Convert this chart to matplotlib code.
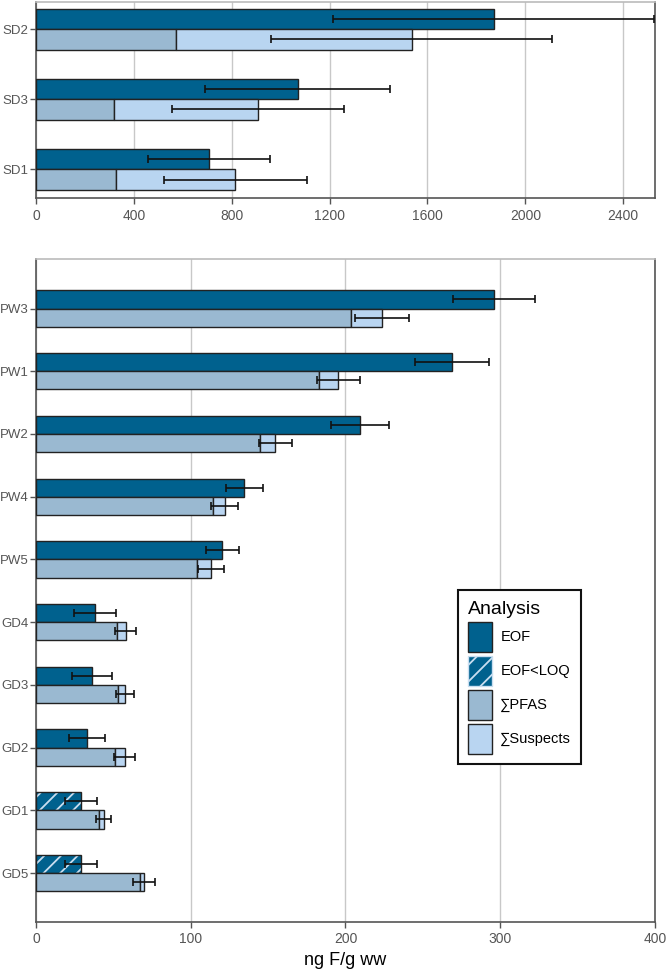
import numpy as np
import matplotlib
matplotlib.use("Agg")
import matplotlib.pyplot as plt
from matplotlib.patches import Patch

plt.rcParams['font.family'] = ['Liberation Sans', 'DejaVu Sans']
plt.rcParams['hatch.linewidth'] = 1.3

# top panel (SD samples)
sd_names = ["SD1", "SD3", "SD2"]
sd_eof = [707, 1069, 1870]
sd_eof_err = [251, 377, 655]
sd_pfas = [327, 317, 574]
sd_total = [815, 907, 1535]
sd_total_err = [291, 352, 573]

# bottom panel (PW / GD samples), bottom to top
gd_names = ["GD5", "GD1", "GD2", "GD3", "GD4", "PW5", "PW4", "PW2", "PW1", "PW3"]
gd_eof = [29, 29, 32.9, 36.4, 38.1, 120.4, 134.7, 209.6, 269, 296]
gd_eof_err = [10.5, 10.5, 11.7, 13, 13.3, 10.7, 12, 18.7, 24, 26.5]
gd_below_loq = [True, True, False, False, False, False, False, False, False, False]
gd_pfas = [67.1, 40.8, 51.2, 53.2, 52.6, 104.3, 114.4, 144.9, 182.7, 203.6]
gd_total = [69.9, 43.8, 57.3, 57.3, 58.1, 113, 122, 154.7, 195.3, 223.6]
gd_total_err = [7.1, 4.7, 6.7, 5.9, 6.8, 8.4, 8.8, 10.9, 14, 17.7]

c_eof = "#00618e"
c_pfas = "#9ab9d1"
c_susp = "#b9d5f1"
c_edge = "#222222"
h = 0.29


def draw_panel(ax, names, eof, eof_err, pfas, total, total_err, loq=None):
    y = np.arange(len(names))
    if loq is None:
        loq = [False] * len(names)
    for i in range(len(names)):
        if loq[i]:
            ax.barh(y[i] + h / 2, eof[i], h, color=c_eof, edgecolor="#c9def0",
                    hatch="//", linewidth=0, zorder=3)
            ax.barh(y[i] + h / 2, eof[i], h, color="none", edgecolor=c_edge,
                    linewidth=1, zorder=3)
        else:
            ax.barh(y[i] + h / 2, eof[i], h, color=c_eof, edgecolor=c_edge,
                    linewidth=1, zorder=3)
    ax.barh(y - h / 2, pfas, h, color=c_pfas, edgecolor=c_edge, linewidth=1, zorder=3)
    susp = np.array(total) - np.array(pfas)
    ax.barh(y - h / 2, susp, h, left=pfas, color=c_susp, edgecolor=c_edge,
            linewidth=1, zorder=3)
    ax.errorbar(eof, y + h / 2, xerr=eof_err, fmt="none", ecolor="#111111",
                elinewidth=1.2, capsize=3, capthick=1.2, zorder=4)
    ax.errorbar(total, y - h / 2, xerr=total_err, fmt="none", ecolor="#111111",
                elinewidth=1.2, capsize=3, capthick=1.2, zorder=4)
    ax.set_yticks(y)
    ax.set_yticklabels(names)
    ax.grid(axis="x", color="#c8c8c8", linewidth=1, zorder=0)
    ax.set_axisbelow(True)
    for s in ["left", "bottom", "right"]:
        ax.spines[s].set_color("#555555")
        ax.spines[s].set_linewidth(1.2)
    ax.spines["top"].set_color("#bbbbbb")
    ax.spines["top"].set_linewidth(1.2)
    ax.tick_params(axis="x", colors="#555555", labelcolor="#555555",
                   labelsize=10, length=4, width=1)
    ax.tick_params(axis="y", colors="#555555", labelcolor="#555555",
                   labelsize=9.5, length=4, width=1, pad=1.5)


fig = plt.figure(figsize=(6.66, 9.71), dpi=100)
ax1 = fig.add_axes([0.054, 0.796, 0.9295, 0.202])
ax2 = fig.add_axes([0.054, 0.0505, 0.9295, 0.6828])

draw_panel(ax1, sd_names, sd_eof, sd_eof_err, sd_pfas, sd_total, sd_total_err)
ax1.set_xlim(0, 2530)
ax1.set_xticks(np.arange(0, 2401, 400))
ax1.set_ylim(-0.41, 2.39)

draw_panel(ax2, gd_names, gd_eof, gd_eof_err, gd_pfas, gd_total, gd_total_err, gd_below_loq)
ax2.set_xlim(0, 400)
ax2.set_xticks(np.arange(0, 401, 100))
ax2.set_ylim(-0.78, 9.79)
ax2.set_xlabel("ng F/g ww", fontsize=13, labelpad=4)

handles = [
    Patch(facecolor=c_eof, edgecolor=c_edge, label="EOF"),
    Patch(facecolor=c_eof, edgecolor="#c9def0", hatch="//", label="EOF<LOQ"),
    Patch(facecolor=c_pfas, edgecolor=c_edge, label="\u2211PFAS"),
    Patch(facecolor=c_susp, edgecolor=c_edge, label="\u2211Suspects"),
]
leg = ax2.legend(handles=handles, title="Analysis", loc="upper left",
                 bbox_to_anchor=(0.67, 0.511), fontsize=10.5, title_fontsize=14,
                 handlelength=1.65, handleheight=2.75, labelspacing=0.3,
                 handletextpad=0.55, borderpad=0.7, frameon=True, fancybox=False,
                 framealpha=1, edgecolor="#111111", alignment="left")
leg.get_frame().set_linewidth(1.5)
for p in leg.get_patches()[:1] + leg.get_patches()[2:]:
    p.set_edgecolor(c_edge)

fig.savefig("out.png", dpi=100)
